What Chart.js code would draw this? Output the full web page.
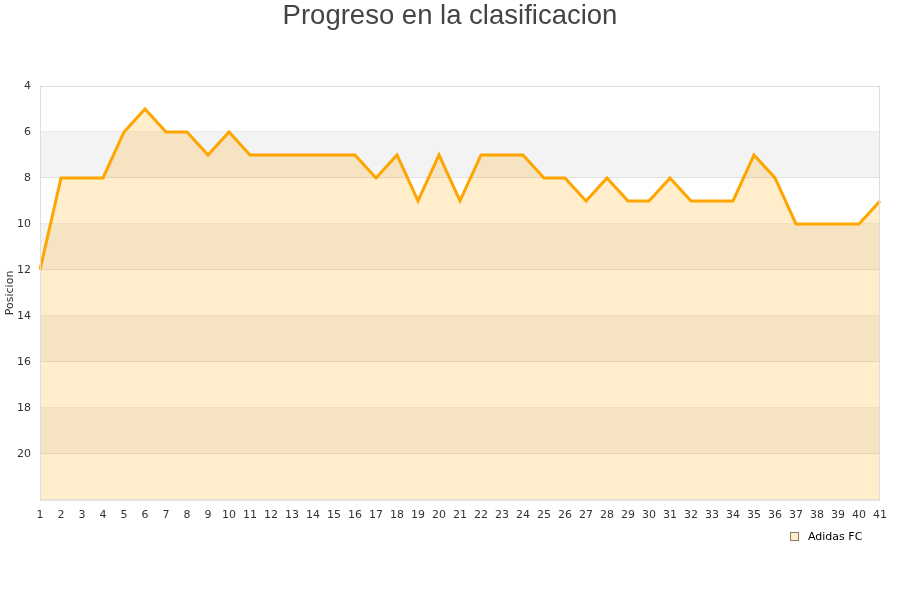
<!DOCTYPE html>
<html>
<head>
<meta charset="utf-8">
<script src="https://cdn.jsdelivr.net/npm/chart.js@4.4.0/dist/chart.umd.min.js"></script>
<style>
  html, body { margin: 0; padding: 0; background: #fff; }
  #wrap { position: relative; width: 900px; height: 600px; }
  #legend {
    position: absolute; left: 790px; top: 530px;
    font: 11px 'DejaVu Sans', sans-serif; color: #000;
    display: flex; align-items: center;
  }
  #legend span.box {
    display: inline-block; width: 7px; height: 7px; margin-right: 9px;
    background: rgba(255, 165, 0, 0.2); border: 1px solid #8a7a60;
  }
</style>
</head>
<body>
<div id="wrap">
  <canvas id="chart"></canvas>
  <div id="legend"><span class="box"></span><span id="legend-text"></span></div>
</div>
<script>
// Data
const jornadas = ['1','2','3','4','5','6','7','8','9','10','11','12','13','14','15','16','17','18','19','20',
  '21','22','23','24','25','26','27','28','29','30','31','32','33','34','35','36','37','38','39','40','41'];
const posiciones = [12, 8, 8, 8, 6, 5, 6, 6, 7, 6, 7, 7, 7, 7, 7, 7, 8, 7, 9, 7,
  9, 7, 7, 7, 8, 8, 9, 8, 9, 9, 8, 9, 9, 9, 7, 8, 10, 10, 10, 10, 9];
const equipo = 'Adidas FC';
const titulo = 'Progreso en la clasificacion';
const ejeY = 'Posicion';

document.getElementById('legend-text').textContent = equipo;

// Alternating horizontal bands + plot border
const bandsPlugin = {
  id: 'bands',
  beforeDraw(chart) {
    const { ctx, chartArea: a, scales: { y } } = chart;
    ctx.save();
    for (let v = y.min; v < y.max; v += 2) {
      if (((v - y.min) / 2) % 2 === 1) {
        const p1 = y.getPixelForValue(v);
        const p2 = y.getPixelForValue(v + 2);
        ctx.fillStyle = '#f3f3f3';
        ctx.fillRect(a.left, p1, a.right - a.left, p2 - p1);
      }
    }
    ctx.restore();
  },
  afterDraw(chart) {
    const { ctx, chartArea: a } = chart;
    ctx.save();
    ctx.strokeStyle = '#dddddd';
    ctx.lineWidth = 1;
    ctx.strokeRect(a.left + 0.5, a.top + 0.5, a.right - a.left - 1, a.bottom - a.top);
    ctx.restore();
  }
};

new Chart(document.getElementById('chart'), {
  type: 'line',
  data: {
    labels: jornadas,
    datasets: [{
      label: equipo,
      data: posiciones,
      borderColor: '#ffa500',
      backgroundColor: 'rgba(255, 165, 0, 0.2)',
      borderWidth: 3,
      pointRadius: 0,
      tension: 0,
      fill: 'start'
    }]
  },
  options: {
    responsive: true,
    maintainAspectRatio: false,
    animation: false,
    layout: { padding: { left: 0, right: 0, top: 0, bottom: 77 } },
    plugins: {
      title: {
        display: true,
        text: titulo,
        color: '#444',
        font: { family: 'Liberation Sans', size: 27.5, weight: 'normal' },
        padding: { top: 0, bottom: 53 }
      },
      legend: { display: false },
      tooltip: { enabled: false }
    },
    scales: {
      x: {
        offset: false,
        grid: { display: false },
        border: { display: false },
        afterFit: (scale) => { scale.paddingRight = 20; },
        ticks: {
          color: '#333',
          font: { family: 'DejaVu Sans', size: 11 },
          maxRotation: 0,
          autoSkip: false,
          padding: 1
        }
      },
      y: {
        reverse: true,
        min: 4,
        max: 22,
        grid: { color: 'rgba(0,0,0,0.08)', drawTicks: false },
        border: { display: false },
        afterFit: (scale) => { scale.width = 40; },
        title: {
          display: true,
          text: ejeY,
          color: '#333',
          font: { family: 'DejaVu Sans', size: 11 },
          padding: { top: 4, bottom: 0 }
        },
        ticks: {
          stepSize: 2,
          color: '#333',
          font: { family: 'DejaVu Sans', size: 11 },
          padding: 9,
          callback: (v) => (v === 22 ? '' : v)
        }
      }
    }
  },
  plugins: [bandsPlugin]
});
</script>
</body>
</html>
